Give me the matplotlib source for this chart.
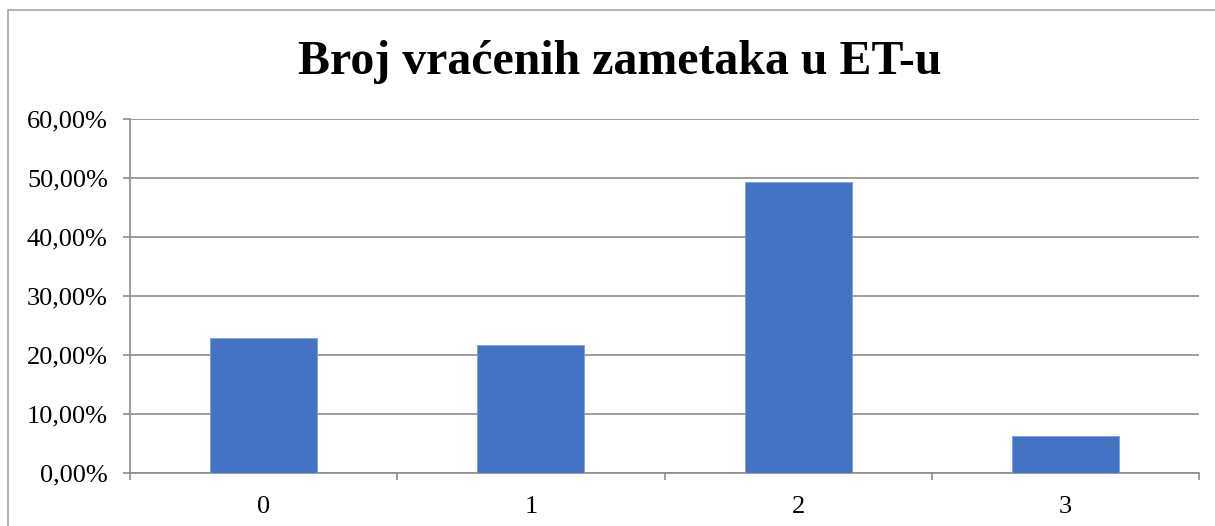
import matplotlib.pyplot as plt
from matplotlib.ticker import FuncFormatter
from matplotlib.patches import Rectangle

categories = ['0', '1', '2', '3']
shares = [22.9, 21.6, 49.3, 6.2]
y_ticks = [0, 10, 20, 30, 40, 50, 60]

plt.rcParams['font.family'] = ['Liberation Serif', 'DejaVu Serif']

fig = plt.figure(figsize=(12.15, 5.26), dpi=100)
ax = fig.add_axes([130 / 1215, 1 - 472.5 / 526, (1199 - 130) / 1215, (472.5 - 119) / 526])

x = range(len(categories))
ax.bar(x, shares, width=0.4, color='#4472c4', edgecolor='#7f9fd9', linewidth=0.6, zorder=3)

ax.set_xlim(-0.5, len(categories) - 0.5)
ax.set_ylim(0, 60)
ax.set_yticks(y_ticks)
ax.yaxis.set_major_formatter(FuncFormatter(lambda v, p: ('%.2f' % v).replace('.', ',') + '%'))
ax.set_xticks(list(x))
ax.set_xticklabels(categories)
ax.set_xticks([i - 0.5 for i in range(len(categories) + 1)], minor=True)

ax.grid(axis='y', color='#8c8c8c', linewidth=1.2, zorder=0)
for s in ['top', 'right']:
    ax.spines[s].set_visible(False)
for s in ['left', 'bottom']:
    ax.spines[s].set_color('#8c8c8c')
    ax.spines[s].set_linewidth(1.2)

ax.tick_params(axis='y', length=5, color='#8c8c8c', width=1.2, labelsize=19, pad=11)
ax.tick_params(axis='x', which='major', length=0, labelsize=19, pad=17)
ax.tick_params(axis='x', which='minor', length=5, color='#8c8c8c', width=1.2)

fig.text(0.51, 1 - 62 / 526, 'Broj vraćenih zametaka u ET-u', ha='center', va='center',
         fontsize=34.5, fontweight='bold')

# chart border
fig.patches.append(Rectangle((8 / 1215, -0.1), 1.2, 1 - 10 / 526 + 0.1, transform=fig.transFigure,
                             fill=False, edgecolor='#a6a6a6', linewidth=1.2))

fig.savefig('out.png', dpi=100)
